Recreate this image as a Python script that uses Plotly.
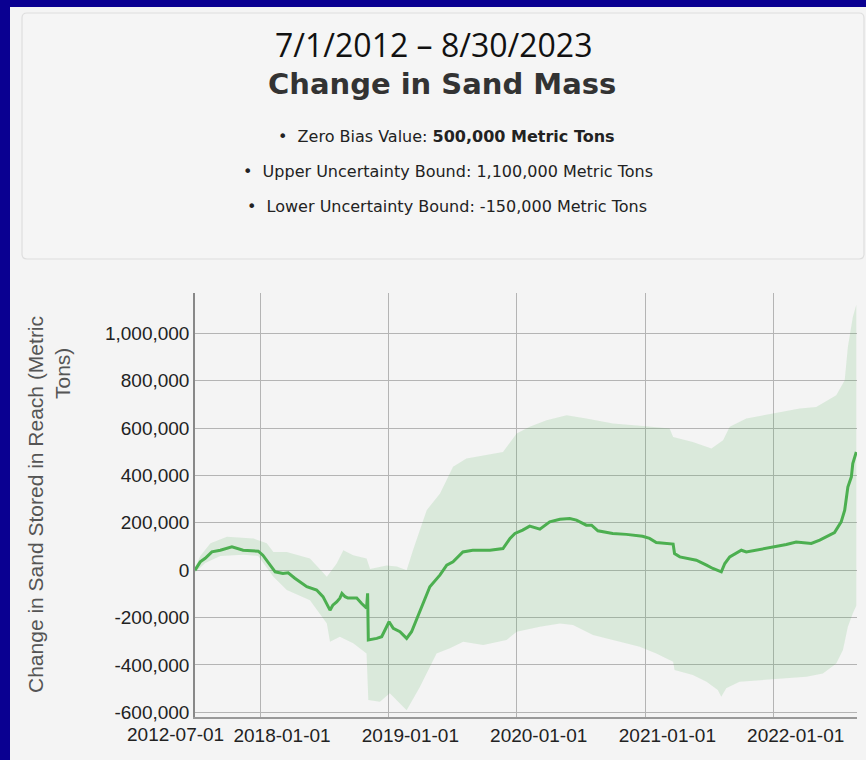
import plotly.graph_objects as go

# ---------------- data ----------------
line_dates = ["2012-07-01","2017-07-15","2017-07-29","2017-08-17","2017-09-10","2017-10-13","2017-11-14","2017-12-27",
              "2018-01-09","2018-01-29","2018-02-13","2018-03-07","2018-03-22","2018-04-10","2018-05-14","2018-06-11",
              "2018-06-29","2018-07-19","2018-07-27","2018-08-07","2018-08-16","2018-08-22","2018-08-31","2018-09-08",
              "2018-10-03","2018-10-17","2018-10-31","2018-11-03","2018-11-05","2018-11-29","2018-12-13",
              "2019-01-03","2019-01-15","2019-02-03","2019-02-22","2019-03-08","2019-04-01","2019-04-29","2019-05-28",
              "2019-06-16","2019-07-04","2019-08-01","2019-08-29","2019-10-17","2019-11-23","2019-12-13","2019-12-27",
              "2020-01-18","2020-02-07","2020-03-07","2020-04-04","2020-05-03","2020-05-31","2020-06-19","2020-07-17",
              "2020-08-01","2020-08-19","2020-09-30","2020-11-08","2020-12-24",
              "2021-01-13","2021-02-01","2021-03-21","2021-03-25","2021-04-09","2021-05-26","2021-06-24","2021-07-12",
              "2021-08-05","2021-08-15","2021-08-29","2021-10-01","2021-10-15","2021-11-22","2021-12-30",
              "2022-02-06","2022-03-06","2022-04-18","2022-05-12","2022-06-23","2022-07-12","2022-07-22","2022-07-31",
              "2022-08-10","2022-08-14","2022-08-24"]
line_values = [0, 35000, 50000, 77000, 84000, 98000, 84000, 80000,
               63000, 21000, -7000, -14000, -11000, -34000, -70000, -84000,
               -112000, -169000, -148000, -134000, -118000, -98000, -112000, -118000,
               -118000, -141000, -160000, -98000, -295000, -288000, -281000,
               -218000, -246000, -260000, -288000, -260000, -169000, -70000, -20000,
               21000, 35000, 77000, 84000, 84000, 91000, 134000, 155000,
               169000, 186000, 173000, 204000, 215000, 218000, 211000, 190000,
               190000, 166000, 155000, 151000, 143000,
               134000, 117000, 110000, 70000, 56000, 42000, 21000, 7000,
               -7000, 28000, 56000, 84000, 77000, 87000, 98000,
               108000, 119000, 113000, 127000, 159000, 204000, 253000, 351000,
               394000, 450000, 499000]

upper_dates = ["2012-07-01","2017-07-15","2017-08-13","2017-09-29","2017-12-13",
               "2018-01-20","2018-02-08","2018-03-18","2018-05-23","2018-07-10","2018-08-07","2018-08-26","2018-09-23",
               "2018-10-31","2018-11-10","2018-12-27",
               "2019-01-25","2019-02-22","2019-03-12","2019-04-20","2019-05-28","2019-07-04","2019-08-11","2019-09-28",
               "2019-11-23",
               "2020-01-01","2020-02-07","2020-03-26","2020-05-22","2020-07-17","2020-10-01","2020-12-25",
               "2021-03-11","2021-03-21","2021-05-16","2021-07-08","2021-08-10","2021-08-29","2021-10-15","2021-12-30",
               "2022-03-16","2022-05-02","2022-06-28","2022-07-22","2022-07-31","2022-08-14","2022-08-24"]
upper_values = [10000, 60000, 114000, 141000, 134000,
                114000, 77000, 77000, 49000, -28000, 28000, 84000, 63000, 49000, 5000, 20000,
                15000, 0, 84000, 253000, 324000, 436000, 471000, 485000, 499000,
                577000, 605000, 633000, 654000, 640000, 619000, 608000,
                598000, 562000, 541000, 513000, 548000, 605000, 640000, 661000,
                682000, 689000, 738000, 802000, 942000, 1068000, 1120000]

lower_dates = ["2012-07-01","2017-07-29","2017-09-10","2017-11-14","2017-12-27",
               "2018-02-08","2018-03-18","2018-05-23","2018-07-10","2018-07-19","2018-08-16","2018-09-23","2018-10-31",
               "2018-11-05","2018-12-08",
               "2019-01-05","2019-02-22","2019-04-01","2019-05-18","2019-06-25","2019-08-02","2019-09-28","2019-12-03",
               "2020-01-01","2020-03-07","2020-05-03","2020-06-09","2020-08-05","2020-10-01","2020-12-16",
               "2021-02-01","2021-03-21","2021-03-25","2021-05-16","2021-06-24","2021-07-26","2021-08-05","2021-08-19",
               "2021-09-26","2021-12-30",
               "2022-04-04","2022-05-21","2022-06-28","2022-07-17","2022-07-31","2022-08-14","2022-08-24"]
lower_values = [-10000, 30000, 60000, 65000, 60000,
                -28000, -84000, -127000, -225000, -302000, -281000, -309000, -352000, -548000, -556000,
                -520000, -591000, -492000, -352000, -330000, -302000, -316000, -295000,
                -260000, -239000, -225000, -232000, -274000, -295000, -323000,
                -352000, -387000, -422000, -443000, -471000, -506000, -534000, -499000, -471000, -461000,
                -450000, -436000, -394000, -337000, -239000, -183000, -150000]

x_tick_vals = ["2012-07-01", "2018-01-01", "2019-01-01", "2020-01-01", "2021-01-01", "2022-01-01"]
x_tick_text = ["2012-07-01", "2018-01-01", "2019-01-01", "2020-01-01", "2021-01-01", "2022-01-01"]
y_tick_vals = [-600000, -400000, -200000, 0, 200000, 400000, 600000, 800000, 1000000]
y_tick_text = ["-600,000", "-400,000", "-200,000", "0", "200,000", "400,000", "600,000", "800,000", "1,000,000"]

title_dates = "7/1/2012 \u2013 8/30/2023"
title_main = "Change in Sand Mass"
bullet_lines = ["Zero Bias Value: <b>500,000 Metric Tons</b>",
                "Upper Uncertainty Bound: 1,100,000 Metric Tons",
                "Lower Uncertainty Bound: -150,000 Metric Tons"]
y_title_lines = ["Change in Sand Stored in Reach (Metric", "Tons)"]

# ---------------- layout helpers (pixel -> paper) ----------------
W, H = 866, 760
L, R, T, B = 195, 9, 293, 43
PW, PH = W - L - R, H - T - B


def px(x):
    return (x - L) / PW


def py(y):
    return (H - B - y) / PH


fig = go.Figure()

fig.add_trace(go.Scatter(
    x=upper_dates + lower_dates[::-1],
    y=upper_values + lower_values[::-1],
    fill="toself", fillcolor="rgba(76,175,80,0.15)",
    line=dict(width=0), mode="lines", hoverinfo="skip", showlegend=False))

fig.add_trace(go.Scatter(
    x=line_dates, y=line_values, mode="lines",
    line=dict(color="#4caf50", width=3), showlegend=False))

# background panel and title box
shapes = [
    dict(type="rect", xref="paper", yref="paper", layer="below",
         x0=px(10), x1=px(W + 20), y0=py(H + 20), y1=py(7),
         fillcolor="#f4f4f4", line=dict(width=0)),
]
bx0, bx1, by0, by1, r = px(22), px(864), py(259), py(13), 5
rx, ry = r / PW, r / PH
path = (f"M {bx0+rx},{by1} L {bx1-rx},{by1} Q {bx1},{by1} {bx1},{by1-ry} "
        f"L {bx1},{by0+ry} Q {bx1},{by0} {bx1-rx},{by0} L {bx0+rx},{by0} "
        f"Q {bx0},{by0} {bx0},{by0+ry} L {bx0},{by1-ry} Q {bx0},{by1} {bx0+rx},{by1} Z")
shapes.append(dict(type="path", xref="paper", yref="paper", layer="below", path=path,
                   fillcolor="#f5f5f5", line=dict(color="#dedede", width=1.2)))

annotations = [
    dict(text=title_dates, x=px(433), y=py(44), xref="paper", yref="paper", showarrow=False,
         xanchor="center", yanchor="middle", font=dict(family="Open Sans", size=32, color="#111111")),
    dict(text="<b>" + title_main + "</b>", x=px(442), y=py(84), xref="paper", yref="paper",
         showarrow=False, xanchor="center", yanchor="middle",
         font=dict(family="DejaVu Sans", size=29, color="#333333")),
]
for txt, cx, cy in zip(bullet_lines, [446, 448, 447], [136, 171, 206]):
    annotations.append(dict(text="\u2022  " + txt, x=px(cx), y=py(cy), xref="paper", yref="paper",
                            showarrow=False, xanchor="center", yanchor="middle",
                            font=dict(family="DejaVu Sans", size=16, color="#222222")))
annotations.append(dict(text=y_title_lines[0], x=px(35), y=py(505), xref="paper", yref="paper",
                        showarrow=False, textangle=-90, xanchor="center", yanchor="middle",
                        font=dict(family="Liberation Sans", size=21, color="#555555")))
annotations.append(dict(text=y_title_lines[1], x=px(62), y=py(374), xref="paper", yref="paper",
                        showarrow=False, textangle=-90, xanchor="center", yanchor="middle",
                        font=dict(family="Liberation Sans", size=21, color="#555555")))
# first x label sits left of its tick in the reference
annotations.append(dict(text=x_tick_text[0], x=px(175), y=py(734), xref="paper", yref="paper",
                        showarrow=False, xanchor="center", yanchor="middle",
                        font=dict(family="Liberation Sans", size=19, color="#222222")))

fig.update_layout(
    width=W, height=H, autosize=False,
    margin=dict(l=L, r=R, t=T, b=B, pad=0, autoexpand=False),
    paper_bgcolor="#0a0091", plot_bgcolor="rgba(0,0,0,0)",
    shapes=shapes, annotations=annotations, showlegend=False,
    xaxis=dict(type="date", range=["2012-07-01", "2022-08-26"],
               rangebreaks=[dict(bounds=["2012-07-02", "2017-07-01"])],
               tickmode="array", tickvals=x_tick_vals, ticktext=[""] + x_tick_text[1:], tickangle=0,
               ticklabelshift=22, automargin=False,
               tickfont=dict(family="Liberation Sans", size=19, color="#222222"),
               showgrid=True, gridcolor="#b4b4b4", gridwidth=1,
               showline=True, linecolor="#999999", linewidth=1.5,
               ticks="", zeroline=False),
    yaxis=dict(range=[-620000, 1170000], automargin=False,
               tickmode="array", tickvals=y_tick_vals, ticktext=y_tick_text,
               tickfont=dict(family="Liberation Sans", size=19, color="#222222"),
               showgrid=True, gridcolor="#b4b4b4", gridwidth=1,
               showline=True, linecolor="#888888", linewidth=1.5,
               ticks="", zeroline=False),
)

fig.write_html("out.html", config={"displayModeBar": False},
               post_script="document.body.style.margin='0px';document.body.style.background='#0a0091';")
